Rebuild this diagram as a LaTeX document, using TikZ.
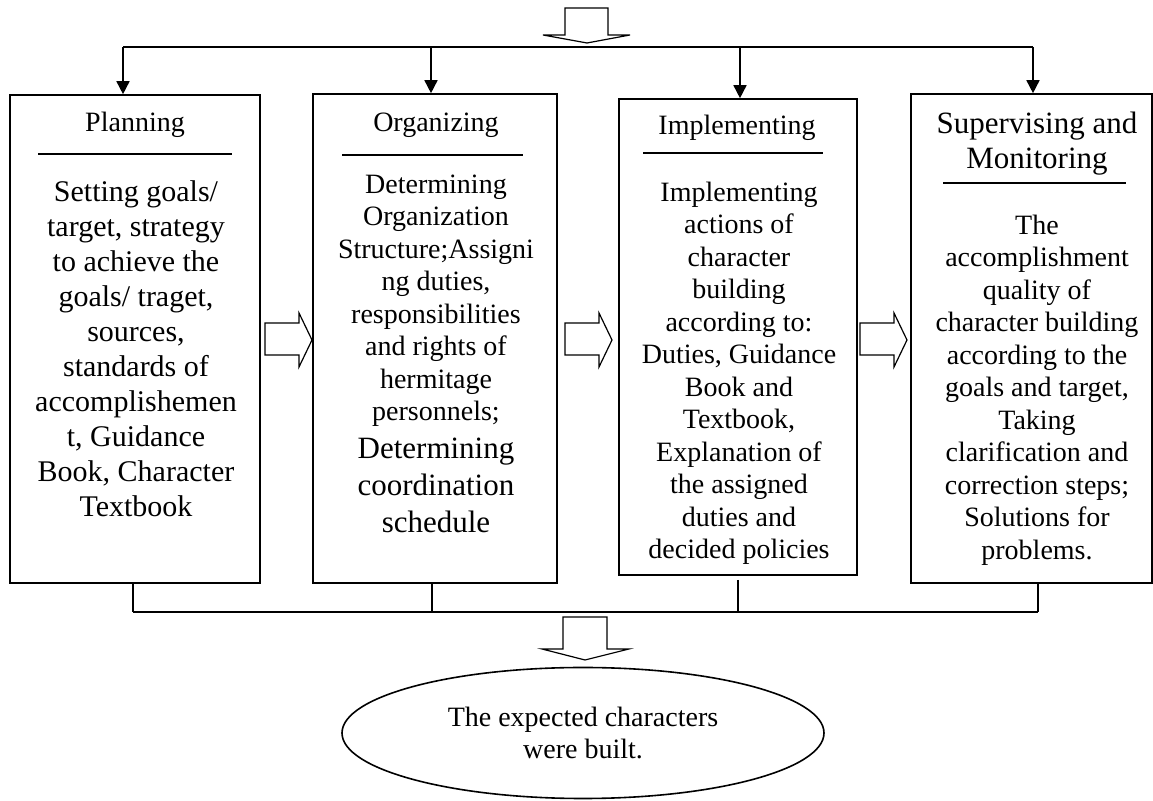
\documentclass[tikz,border=0pt]{standalone}
\usepackage{fontspec}
\setmainfont{Liberation Serif}
\usetikzlibrary{arrows.meta,fit,shapes.geometric}

\begin{document}
\begin{tikzpicture}[x=0.5pt,y=-0.5pt,line width=0.8pt,
    stage/.style={draw,rectangle,inner sep=0pt},
    arr/.style={-{Triangle[width=6.5pt,length=6.5pt]}},
    head/.style={anchor=base,inner sep=0pt,font=\fontsize{14}{17.5}\selectfont},
    body/.style={align=center,anchor=north,inner sep=0pt,font=\fontsize{14}{16.25}\selectfont},
    hollow/.style={draw,fill=white,line width=0.6pt}]
	\useasboundingbox (0,0) rectangle (1153,801);
	% the four stages
	\node[stage,fit={(10,95) (260,583)}] (plan) {};
	\node[stage,fit={(313,94) (557,583)}] (org) {};
	\node[stage,fit={(619,99) (857,575)}] (impl) {};
	\node[stage,fit={(911,94) (1152,583)}] (sup) {};
	% titles
	\node[head] (planhead) at (135,132) {Planning};
	\node[head] (orghead) at (436,132) {Organizing};
	\node[head] (implhead) at (737,135) {Implementing};
	\node[head,anchor=north,align=center,font=\fontsize{15.5}{17.5}\selectfont] (suphead) at (1037,111) {Supervising and\\Monitoring};
	\foreach \a/\b/\y in {38/232/154,342/523/155,643/823/153,943/1126/183}
		\draw (\a,\y) -- (\b,\y);
	% texts
	\node[body,font=\fontsize{15}{17.5}\selectfont] (planbody) at (136,180) {Setting goals/\\target, strategy\\to achieve the\\goals/ traget,\\sources,\\standards of\\accomplishemen\\t, Guidance\\Book, Character\\Textbook};
	\node[body] (orgbody) at (436,174) {Determining\\Organization\\Structure;Assigni\\ng duties,\\responsibilities\\and rights of\\hermitage\\personnels;};
	\node[body,font=\fontsize{15.5}{18.5}\selectfont] (orgtail) at (436,437) {Determining\\coordination\\schedule};
	\node[body] (implbody) at (739,181) {Implementing\\actions of\\character\\building\\according to:\\Duties, Guidance\\Book and\\Textbook,\\Explanation of\\the assigned\\duties and\\decided policies};
	\node[body] (supbody) at (1037,214) {The\\accomplishment\\quality of\\character building\\according to the\\goals and target,\\Taking\\clarification and\\correction steps;\\Solutions for\\problems.};
	% result
	\node[ellipse,draw,inner sep=0pt,minimum width=241pt,minimum height=65.5pt,align=center,font=\fontsize{14}{16}\selectfont] (result) at (583,733) {The expected characters\\were built.};
	% top fork
	\draw[hollow] (565,8) -- (608,8) -- (608,35) -- (630,35) -- (587,43) -- (543,35) -- (565,35) -- cycle;
	\foreach \x/\n in {123/plan,431/org,740/impl,1033/sup} {
		\coordinate (\n-in) at (\x,47);
		\draw[arr] (\n-in) -- (\n-in |- \n.north);
	}
	\draw (plan-in) -- (sup-in);
	% steps between stages
	\foreach \x in {265,565,860}
		\draw[hollow] (\x,323) -- (\x+34,323) -- (\x+34,313) -- (\x+47,340) -- (\x+34,367) -- (\x+34,355) -- (\x,355) -- cycle;
	% bottom join
	\foreach \x/\n/\g in {133/plan/0,432/org/0,738/impl/4,1038/sup/0} {
		\coordinate (\n-out) at (\x,612);
		\draw (\n-out |- \n.south) ++(0,\g) -- (\n-out);
	}
	\draw (plan-out) -- (sup-out);
	\draw[hollow] (563,617) -- (607,617) -- (607,649) -- (629,649) -- (585,660) -- (542,649) -- (563,649) -- cycle;
\end{tikzpicture}
\end{document}
